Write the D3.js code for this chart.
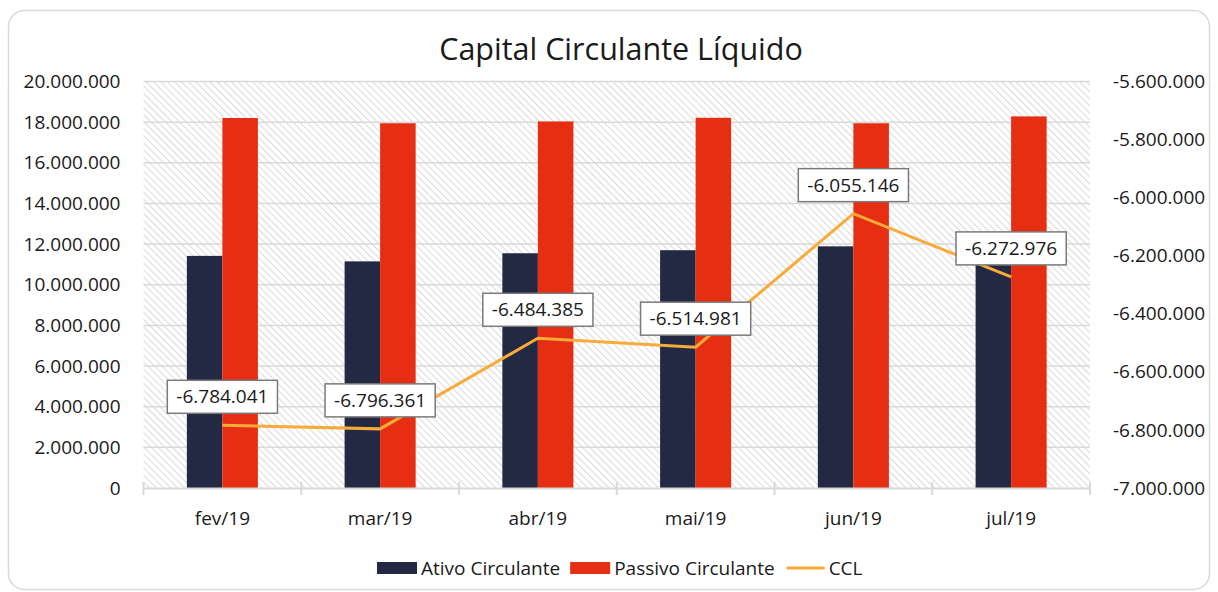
<!DOCTYPE html>
<html><head><meta charset="utf-8">
<script src="https://cdn.jsdelivr.net/npm/d3@7"></script>
<style>body{margin:0;background:#fff}svg{display:block}text{font-family:"Open Sans",sans-serif;fill:#1a1a1a}</style>
</head><body><svg id="c" width="1218" height="592"></svg>
<script>
const categories=["fev/19","mar/19","abr/19","mai/19","jun/19","jul/19"];
const seriesNames=["Ativo Circulante","Passivo Circulante","CCL"];
const ativo=[11420000,11150000,11550000,11700000,11890000,12010000];
const passivo=[18204041,17946361,18034385,18214981,17945146,18282976];
const ccl=[-6784041,-6796361,-6484385,-6514981,-6055146,-6272976];
const cclLabels=["-6.784.041","-6.796.361","-6.484.385","-6.514.981","-6.055.146","-6.272.976"];
const leftTicks=[0,2e6,4e6,6e6,8e6,10e6,12e6,14e6,16e6,18e6,20e6];
const rightTicks=[-7e6,-6.8e6,-6.6e6,-6.4e6,-6.2e6,-6e6,-5.8e6,-5.6e6];
const colors=["#242943","#e52e12","#f7ab39"];

const svg=d3.select("#c");
const L=143.5,R=1090,T=81.5,B=488;
const fmt=v=>{const s=Math.abs(v).toString().replace(/\B(?=(\d{3})+(?!\d))/g,".");return (v<0?"-":"")+s;};

svg.append("rect").attr("x",8.5).attr("y",10.5).attr("width",1201).attr("height",579).attr("rx",16).attr("fill","#fff").attr("stroke","#d9d9d9").attr("stroke-width",1.5);

const defs=svg.append("defs");
const pat=defs.append("pattern").attr("id","hatch").attr("patternUnits","userSpaceOnUse").attr("width",5).attr("height",5).attr("patternTransform","rotate(-45)");
pat.append("rect").attr("width",5).attr("height",5).attr("fill","#ffffff");
pat.append("line").attr("x1",0).attr("y1",0).attr("x2",0).attr("y2",5).attr("stroke","#dcdcdc").attr("stroke-width",2.2);

const x0=d3.scaleBand().domain(categories).range([L,R]).padding(0);
const x1=d3.scaleBand().domain(seriesNames.slice(0,2)).range([0,x0.bandwidth()]).paddingInner(0).paddingOuter(1.22);
const yL=d3.scaleLinear().domain([0,20e6]).range([B,T]);
const yR=d3.scaleLinear().domain([-7e6,-5.6e6]).range([B,T]);

svg.append("rect").attr("x",L).attr("y",T).attr("width",R-L).attr("height",B-T).attr("fill","url(#hatch)");

svg.append("text").attr("x",621).attr("y",60).attr("text-anchor","middle").style("font-size","30.5px").text("Capital Circulante Líquido");

// gridlines
svg.append("g").selectAll("line").data(leftTicks.slice(1)).join("line")
 .attr("x1",L).attr("x2",R).attr("y1",d=>yL(d)).attr("y2",d=>yL(d)).attr("stroke","#d9d9d9").attr("stroke-width",1.5);

// left axis
const gl=svg.append("g").attr("transform",`translate(${L},0)`).call(d3.axisLeft(yL).tickValues(leftTicks).tickFormat(fmt).tickSize(0).tickPadding(23));
gl.select(".domain").remove();
gl.selectAll("text").style("font-size","19px").attr("fill","#1a1a1a");
const gr=svg.append("g").attr("transform",`translate(${R},0)`).call(d3.axisRight(yR).tickValues(rightTicks).tickFormat(fmt).tickSize(0).tickPadding(23));
gr.select(".domain").remove();
gr.selectAll("text").style("font-size","19px").attr("fill","#1a1a1a");

// bars
const data=categories.map((c,i)=>({c,v:[ativo[i],passivo[i]]}));
const g=svg.append("g");
g.selectAll("g").data(data).join("g").attr("transform",d=>`translate(${x0(d.c)},0)`)
 .selectAll("rect").data(d=>d.v.map((v,j)=>({k:seriesNames[j],v,j}))).join("rect")
 .attr("x",d=>x1(d.k)).attr("width",x1.bandwidth()).attr("y",d=>yL(d.v)).attr("height",d=>B-yL(d.v)).attr("fill",d=>colors[d.j]);

// bottom axis
const gb=svg.append("g").attr("transform",`translate(0,${B})`).call(d3.axisBottom(x0).tickSize(0).tickPadding(24));
gb.select(".domain").attr("stroke","#d9d9d9").attr("stroke-width",2);
gb.selectAll("text").style("font-size","19px").attr("fill","#1a1a1a");
svg.append("g").selectAll("line").data(d3.range(categories.length+1)).join("line")
 .attr("x1",i=>L+i*x0.step()).attr("x2",i=>L+i*x0.step()).attr("y1",B-6).attr("y2",B+7).attr("stroke","#d9d9d9").attr("stroke-width",2);

// line
const cx=c=>x0(c)+x0.bandwidth()/2;
svg.append("path").datum(categories.map((c,i)=>[cx(c),yR(ccl[i])]))
 .attr("d",d3.line()).attr("fill","none").attr("stroke",colors[2]).attr("stroke-width",3);

// labels
const lg=svg.append("g");
categories.forEach((c,i)=>{
 const px=cx(c),py=yR(ccl[i]);
 const gg=lg.append("g");
 const r=gg.append("rect");
 const t=gg.append("text").attr("x",px).attr("y",py-12-16.5).attr("dy","0.35em").attr("text-anchor","middle").style("font-size","19px").text(cclLabels[i]);
 const w=t.node().getComputedTextLength()+18;
 r.attr("x",px-w/2).attr("y",py-12-33).attr("width",w).attr("height",33).attr("fill","#fff").attr("stroke","#7a7a7a").attr("stroke-width",1.5);
});

// legend
const leg=svg.append("g");
let lx=377;const ly=568;
seriesNames.forEach((n,i)=>{
 if(i<2) leg.append("rect").attr("x",lx).attr("y",ly-6).attr("width",40).attr("height",12).attr("fill",colors[i]);
 else leg.append("line").attr("x1",lx+2).attr("x2",lx+40).attr("y1",ly).attr("y2",ly).attr("stroke",colors[i]).attr("stroke-width",3);
 const t=leg.append("text").attr("x",lx+44).attr("y",ly).attr("dy","0.35em").style("font-size","19px").text(n);
 lx+=44+t.node().getComputedTextLength()+10;
});
</script></body></html>
